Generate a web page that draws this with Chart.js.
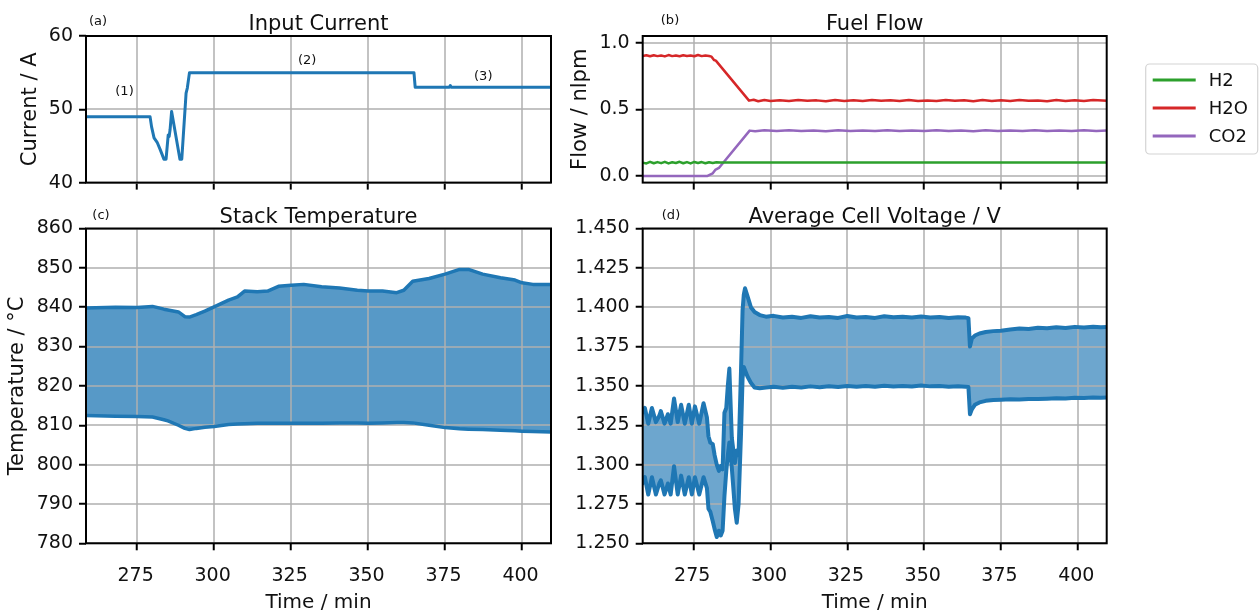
<!DOCTYPE html>
<html><head><meta charset="utf-8">
<script src="https://cdn.jsdelivr.net/npm/chart.js@4.4.1/dist/chart.umd.min.js"></script>
<style>
html,body{margin:0;padding:0;background:#fff;width:1259px;height:613px;overflow:hidden}
canvas{position:absolute}
</style></head><body>
<canvas id="ca" width="560" height="200" style="left:0;top:0"></canvas>
<canvas id="cb" width="699" height="200" style="left:560px;top:0"></canvas>
<canvas id="cc" width="560" height="413" style="left:0;top:200px"></canvas>
<canvas id="cd" width="560" height="413" style="left:560px;top:200px"></canvas>
<script>
// ---------- tick labels ----------
const timeTicks = [275, 300, 325, 350, 375, 400];
const currentTicks = [40, 50, 60];
const flowTicks = [0.0, 0.5, 1.0];
const tempTicks = [780, 790, 800, 810, 820, 830, 840, 850, 860];
const voltTicks = [1.250, 1.275, 1.300, 1.325, 1.350, 1.375, 1.400, 1.425, 1.450];

// ---------- (a) input current ----------
const currentTime = [258.3, 279.2, 279.7, 280.5, 281.5, 282.5, 283.7, 284.4, 285.1, 285.4, 285.7, 286.2, 288.9, 289.5, 290.9, 291.3, 292.0, 364.9, 365.3, 376.4, 376.7, 377.0, 409.5];
const currentValue = [49, 49, 47.6, 46.1, 45.5, 44.5, 43.2, 43.2, 46.5, 46.3, 47.2, 49.7, 43.2, 43.2, 52.2, 52.9, 55, 55, 53, 53, 53.25, 53, 53];
const stepLabels = ['(1)', '(2)', '(3)'];
const stepLabelTime = [270.9, 330.2, 387.4];
const stepLabelCurrent = [52.4, 56.6, 54.4];

// ---------- (b) fuel flow ----------
const flowSeries = ['H2', 'H2O', 'CO2'];
const h2Time = [258.4, 259.6, 260.8, 262.0, 263.2, 264.4, 265.6, 266.8, 268.0, 269.2, 270.4, 271.6, 272.8, 274.0, 275.2, 276.4, 277.6, 278.8, 280.0, 281.2, 282.4, 283.6,
  290, 300, 310, 320, 330, 340, 350, 360, 370, 380, 390, 400, 409.5];
const h2Flow = [0.100, 0.094, 0.106, 0.095, 0.104, 0.096, 0.106, 0.094, 0.103, 0.097, 0.106, 0.095, 0.104, 0.094, 0.105, 0.097, 0.104, 0.095, 0.103, 0.097, 0.102, 0.100,
  0.101, 0.100, 0.101, 0.100, 0.101, 0.100, 0.100, 0.101, 0.100, 0.101, 0.100, 0.101, 0.100];
const h2oTime = [258.4, 259.6, 260.8, 262.0, 263.2, 264.4, 265.6, 266.8, 268.0, 269.2, 270.4, 271.6, 272.8, 274.0, 275.2, 276.4, 277.6, 278.8, 280.0, 280.8, 281.6, 282.2,
  293.0, 294.5, 296, 298, 300, 303, 306, 309, 312, 315, 318, 321, 324, 327, 330, 333, 336, 339, 342, 345, 348, 351, 354, 357, 360, 363, 366, 369, 372, 375, 378, 381, 384, 387, 390, 393, 396, 399, 402, 405, 409.5];
const h2oFlow = [0.900, 0.905, 0.898, 0.906, 0.899, 0.903, 0.897, 0.907, 0.899, 0.904, 0.898, 0.906, 0.900, 0.903, 0.898, 0.907, 0.899, 0.904, 0.900, 0.895, 0.870, 0.865,
  0.565, 0.572, 0.560, 0.570, 0.563, 0.568, 0.562, 0.569, 0.564, 0.567, 0.561, 0.570, 0.563, 0.568, 0.562, 0.569, 0.564, 0.567, 0.562, 0.570, 0.563, 0.566, 0.562, 0.569, 0.564, 0.568, 0.561, 0.569, 0.563, 0.567, 0.562, 0.570, 0.564, 0.566, 0.561, 0.569, 0.563, 0.568, 0.562, 0.569, 0.565];
const co2Time = [258.4, 279.5, 281.2, 282.0, 283.2, 293.2, 295, 298,
  302, 306, 310, 314, 318, 322, 326, 330, 334, 338, 342, 346, 350, 354, 358, 362, 366, 370, 374, 378, 382, 386, 390, 394, 398, 402, 406, 409.5];
const co2Flow = [0, 0, 0.020, 0.045, 0.060, 0.340, 0.336, 0.343,
  0.337, 0.342, 0.338, 0.341, 0.336, 0.343, 0.338, 0.341, 0.337, 0.342, 0.338, 0.341, 0.337, 0.343, 0.338, 0.341, 0.336, 0.342, 0.338, 0.341, 0.337, 0.343, 0.338, 0.341, 0.337, 0.342, 0.338, 0.340];

// ---------- (c) stack temperature ----------
const tempTime = [258.3, 268, 275, 280, 283.7, 285, 288.4, 290.5, 292, 294.2, 297, 300, 304.7, 307.6, 309.9, 314, 317.4, 320.9, 325, 329.1, 334.9, 340.7, 346.5, 350, 354.7, 359.3, 361.6, 364.5, 369.8, 375, 379.7, 382.6, 387.2, 393, 397.7, 400, 403.5, 409.5];
const tempUpper = [839.8, 840.0, 839.9, 840.2, 839.5, 839.3, 838.8, 837.6, 837.5, 838.1, 839.0, 840.1, 841.8, 842.6, 844.1, 843.9, 844.1, 845.3, 845.6, 845.8, 845.2, 844.9, 844.3, 844.1, 844.1, 843.7, 844.3, 846.6, 847.3, 848.4, 849.6, 849.6, 848.4, 847.5, 846.9, 846.2, 845.8, 845.8];
const tempLower = [812.5, 812.3, 812.2, 812.1, 811.4, 811.1, 810.0, 809.2, 808.9, 809.2, 809.5, 809.7, 810.2, 810.3, 810.4, 810.5, 810.5, 810.5, 810.5, 810.5, 810.5, 810.6, 810.6, 810.5, 810.6, 810.7, 810.7, 810.6, 810.0, 809.4, 809.1, 809.0, 808.9, 808.7, 808.6, 808.5, 808.4, 808.3];

// ---------- (d) average cell voltage ----------
const voltTime = [258.3, 259.1, 260.2, 261.4, 262.7, 263.8, 264.3, 265.5, 266.6, 267.5, 268.6, 269.8, 270.9, 272.1, 273.4, 274.4, 275.4, 276.8, 278.2, 279.3,
  279.8, 280.4, 281.2, 281.8, 282.5, 283.2, 283.8, 284.4, 285.0, 285.6, 286.1, 286.6, 287.4, 288.4, 289.0, 289.6, 290.4, 290.9, 291.3, 291.7,
  292.5, 293.6, 294.8, 296.5, 298.5, 301, 304, 307, 310, 313, 316, 319, 322, 325, 328, 331, 334, 337, 340, 343,
  346, 349, 352, 355, 358, 361, 363.5, 364.4, 364.9, 365.5, 366.5, 368, 370, 372.5, 375, 378, 381, 384, 387, 390,
  393, 396, 399, 402, 405, 407.5, 409.5];
const voltUpper = [1.333, 1.336, 1.326, 1.336, 1.327, 1.331, 1.334, 1.326, 1.332, 1.326, 1.342, 1.327, 1.338, 1.326, 1.338, 1.326, 1.337, 1.326, 1.339, 1.330,
  1.318, 1.314, 1.313, 1.306, 1.300, 1.296, 1.299, 1.297, 1.333, 1.336, 1.350, 1.361, 1.317, 1.301, 1.309, 1.306, 1.360, 1.398, 1.408, 1.412,
  1.407, 1.400, 1.397, 1.395, 1.394, 1.3945, 1.3935, 1.394, 1.3932, 1.3942, 1.3934, 1.3938, 1.3932, 1.3944, 1.3935, 1.3938, 1.3932, 1.3942, 1.3936, 1.3940,
  1.3934, 1.3941, 1.3935, 1.3938, 1.3932, 1.3936, 1.3934, 1.3930, 1.375, 1.380, 1.382, 1.3833, 1.3842, 1.3848, 1.385, 1.3858, 1.3864, 1.3862, 1.3869, 1.3866,
  1.3872, 1.3868, 1.3875, 1.3871, 1.3876, 1.3873, 1.3875];
const voltLower = [1.288, 1.292, 1.281, 1.292, 1.281, 1.288, 1.290, 1.281, 1.288, 1.281, 1.299, 1.281, 1.293, 1.281, 1.292, 1.281, 1.292, 1.281, 1.292, 1.285,
  1.272, 1.270, 1.264, 1.259, 1.254, 1.258, 1.255, 1.258, 1.280, 1.296, 1.306, 1.314, 1.298, 1.272, 1.263, 1.275, 1.320, 1.355, 1.362, 1.360,
  1.356, 1.352, 1.349, 1.3485, 1.349, 1.3495, 1.3488, 1.3495, 1.3490, 1.3497, 1.3492, 1.3498, 1.3493, 1.3499, 1.3494, 1.3500, 1.3495, 1.3501, 1.3496, 1.3499,
  1.3496, 1.3502, 1.3497, 1.3499, 1.3495, 1.3497, 1.3495, 1.3493, 1.332, 1.335, 1.338, 1.3395, 1.3405, 1.341, 1.3412, 1.3415, 1.3414, 1.3417, 1.3416, 1.3419,
  1.3421, 1.3420, 1.3424, 1.3423, 1.3426, 1.3425, 1.3426];

// ---------- helpers ----------
const FONT = "'DejaVu Sans', 'Liberation Sans', sans-serif";
const BLUE = '#1f77b4';
const zip = (xs, ys) => xs.slice(0, Math.min(xs.length, ys.length)).map((x, i) => ({x, y: ys[i]}));

function decor(d) {
  return {
    id: 'decor',
    beforeDatasetsDraw(chart) {
      const {ctx, chartArea: a, scales} = chart;
      ctx.save();
      ctx.strokeStyle = '#b0b0b0'; ctx.lineWidth = 1.5;
      ctx.beginPath();
      for (const v of timeTicks) { const x = Math.round(scales.x.getPixelForValue(v)); ctx.moveTo(x, a.top); ctx.lineTo(x, a.bottom); }
      for (const v of d.yTicks) { const y = Math.round(scales.y.getPixelForValue(v)); ctx.moveTo(a.left, y); ctx.lineTo(a.right, y); }
      ctx.stroke();
      ctx.restore();
    },
    afterDatasetsDraw(chart) {
      const {ctx, chartArea: a} = chart;
      ctx.save();
      ctx.strokeStyle = '#000'; ctx.lineWidth = 2;
      ctx.strokeRect(a.left, a.top, a.right - a.left, a.bottom - a.top);
      ctx.restore();
    },
    afterDraw(chart) {
      const {ctx, chartArea: a, scales} = chart;
      const cx = (a.left + a.right) / 2;
      ctx.save();
      ctx.fillStyle = '#111';
      ctx.textAlign = 'center';
      ctx.textBaseline = 'alphabetic';
      ctx.font = '21px ' + FONT;
      ctx.fillText(d.title, cx, d.titleY);
      ctx.textBaseline = 'middle';
      ctx.font = '13px ' + FONT;
      ctx.fillText(d.letter, d.letterX, d.letterY);
      if (d.xLabel) {
        ctx.textBaseline = 'alphabetic';
        ctx.font = '19px ' + FONT;
        for (const v of timeTicks) ctx.fillText(String(v), scales.x.getPixelForValue(v) - 1.5, d.xTickY);
        ctx.font = '20px ' + FONT;
        ctx.fillText(d.xLabel, cx, d.xLabelY);
      }
      if (d.yLabel) {
        ctx.save();
        ctx.translate(d.yLabelX, (a.top + a.bottom) / 2);
        ctx.rotate(-Math.PI / 2);
        ctx.textBaseline = 'middle';
        ctx.font = '21px ' + FONT;
        ctx.fillText(d.yLabel, 0, 0);
        ctx.restore();
      }
      if (d.notes) {
        ctx.font = '13px ' + FONT;
        ctx.textBaseline = 'middle';
        d.notes.labels.forEach((t, i) => {
          ctx.fillText(t, scales.x.getPixelForValue(d.notes.xs[i]), scales.y.getPixelForValue(d.notes.ys[i]));
        });
      }
      if (d.legend) {
        const L = d.legend;
        ctx.beginPath();
        ctx.roundRect(L.x, L.y, L.w, L.h, 4);
        ctx.fillStyle = 'rgba(255,255,255,0.9)'; ctx.fill();
        ctx.strokeStyle = '#d4d4d4'; ctx.lineWidth = 1.2; ctx.stroke();
        ctx.font = '18px ' + FONT;
        ctx.textAlign = 'left';
        ctx.textBaseline = 'middle';
        chart.data.datasets.forEach((ds, i) => {
          const y = L.y + 16 + i * 28;
          ctx.strokeStyle = ds.borderColor; ctx.lineWidth = 3;
          ctx.beginPath(); ctx.moveTo(L.x + 7, y); ctx.lineTo(L.x + 50, y); ctx.stroke();
          ctx.fillStyle = '#111';
          ctx.fillText(ds.label, L.x + 63, y + 1);
        });
      }
      ctx.restore();
    }
  };
}

function scalesFor(o) {
  return {
    x: {
      type: 'linear', min: 258.4, max: 409.4,
      afterBuildTicks: s => { s.ticks = timeTicks.map(v => ({value: v})); },
      afterFit: s => { s.height = o.xH; },
      ticks: {display: false, autoSkip: false, maxRotation: 0},
      grid: {drawOnChartArea: false, drawTicks: true, tickLength: 7, tickColor: '#000', tickWidth: 2, lineWidth: 1.5},
      border: {display: false}
    },
    y: {
      type: 'linear', min: o.yMin, max: o.yMax,
      afterBuildTicks: s => { s.ticks = o.yTicks.map(v => ({value: v})); },
      afterFit: s => { s.width = o.yW; },
      ticks: {autoSkip: false, padding: 6, color: '#111', font: {family: FONT, size: 19}, callback: o.fmt},
      grid: {drawOnChartArea: false, drawTicks: true, tickLength: 7, tickColor: '#000', tickWidth: 2, lineWidth: 1.5},
      border: {display: false}
    }
  };
}

const common = {
  responsive: false, animation: false, devicePixelRatio: 1,
  elements: {point: {radius: 0}, line: {tension: 0, borderCapStyle: 'round', borderJoinStyle: 'round'}},
  plugins: {legend: {display: false}, tooltip: {enabled: false}, title: {display: false}, filler: {drawTime: 'beforeDatasetsDraw'}},
};

// (a)
new Chart(document.getElementById('ca'), {
  type: 'line',
  data: {datasets: [{label: 'Current', data: zip(currentTime, currentValue), borderColor: BLUE, borderWidth: 3, fill: false}]},
  options: Object.assign({}, common, {
    layout: {padding: {left: 0, top: 36, right: 9, bottom: 0}},
    scales: scalesFor({xH: 17.3, yMin: 40, yMax: 60, yTicks: currentTicks, yW: 86, fmt: v => String(v)})
  }),
  plugins: [decor({title: 'Input Current', titleY: 30, letter: '(a)', letterX: 98, letterY: 22, yLabel: 'Current / A', yLabelX: 31, yTicks: currentTicks,
    notes: {labels: stepLabels, xs: stepLabelTime, ys: stepLabelCurrent}})]
});

// (b)
new Chart(document.getElementById('cb'), {
  type: 'line',
  data: {datasets: [
    {label: flowSeries[0], data: zip(h2Time, h2Flow), borderColor: '#2ca02c', borderWidth: 2.5, fill: false},
    {label: flowSeries[1], data: zip(h2oTime, h2oFlow), borderColor: '#d62728', borderWidth: 2.5, fill: false},
    {label: flowSeries[2], data: zip(co2Time, co2Flow), borderColor: '#9467bd', borderWidth: 2.5, fill: false}
  ]},
  options: Object.assign({}, common, {
    layout: {padding: {left: 0, top: 36, right: 152.3, bottom: 0}},
    scales: scalesFor({xH: 17.3, yMin: -0.05, yMax: 1.05, yTicks: flowTicks, yW: 82.7, fmt: v => v.toFixed(1)})
  }),
  plugins: [decor({title: 'Fuel Flow', titleY: 30, letter: '(b)', letterX: 110, letterY: 21, yLabel: 'Flow / nlpm', yLabelX: 21, yTicks: flowTicks,
    legend: {x: 585.7, y: 64, w: 112, h: 90}})]
});

// (c)
new Chart(document.getElementById('cc'), {
  type: 'line',
  data: {datasets: [
    {label: 'min', data: zip(tempTime, tempLower), borderColor: BLUE, borderWidth: 3.5, fill: false},
    {label: 'max', data: zip(tempTime, tempUpper), borderColor: BLUE, borderWidth: 3.5, fill: '-1', backgroundColor: 'rgba(31,119,180,0.75)'}
  ]},
  options: Object.assign({}, common, {
    layout: {padding: {left: 0, top: 28.5, right: 9, bottom: 0}},
    scales: scalesFor({xH: 69.7, yMin: 780, yMax: 860, yTicks: tempTicks, yW: 86, fmt: v => String(v)})
  }),
  plugins: [decor({title: 'Stack Temperature', titleY: 23, letter: '(c)', letterX: 101, letterY: 16, xLabel: 'Time / min', xLabelY: 408, xTickY: 381,
    yLabel: 'Temperature / °C', yLabelX: 18, yTicks: tempTicks})]
});

// (d)
new Chart(document.getElementById('cd'), {
  type: 'line',
  data: {datasets: [
    {label: 'min', data: zip(voltTime, voltLower), borderColor: BLUE, borderWidth: 4, fill: false},
    {label: 'max', data: zip(voltTime, voltUpper), borderColor: BLUE, borderWidth: 4, fill: '-1', backgroundColor: 'rgba(31,119,180,0.65)'}
  ]},
  options: Object.assign({}, common, {
    layout: {padding: {left: 0, top: 28.5, right: 13.3, bottom: 0}},
    scales: scalesFor({xH: 69.7, yMin: 1.25, yMax: 1.45, yTicks: voltTicks, yW: 82.7, fmt: v => v.toFixed(3)})
  }),
  plugins: [decor({title: 'Average Cell Voltage / V', titleY: 23, letter: '(d)', letterX: 111, letterY: 16, xLabel: 'Time / min', xLabelY: 408, xTickY: 381,
    yTicks: voltTicks})]
});
</script>
</body></html>
